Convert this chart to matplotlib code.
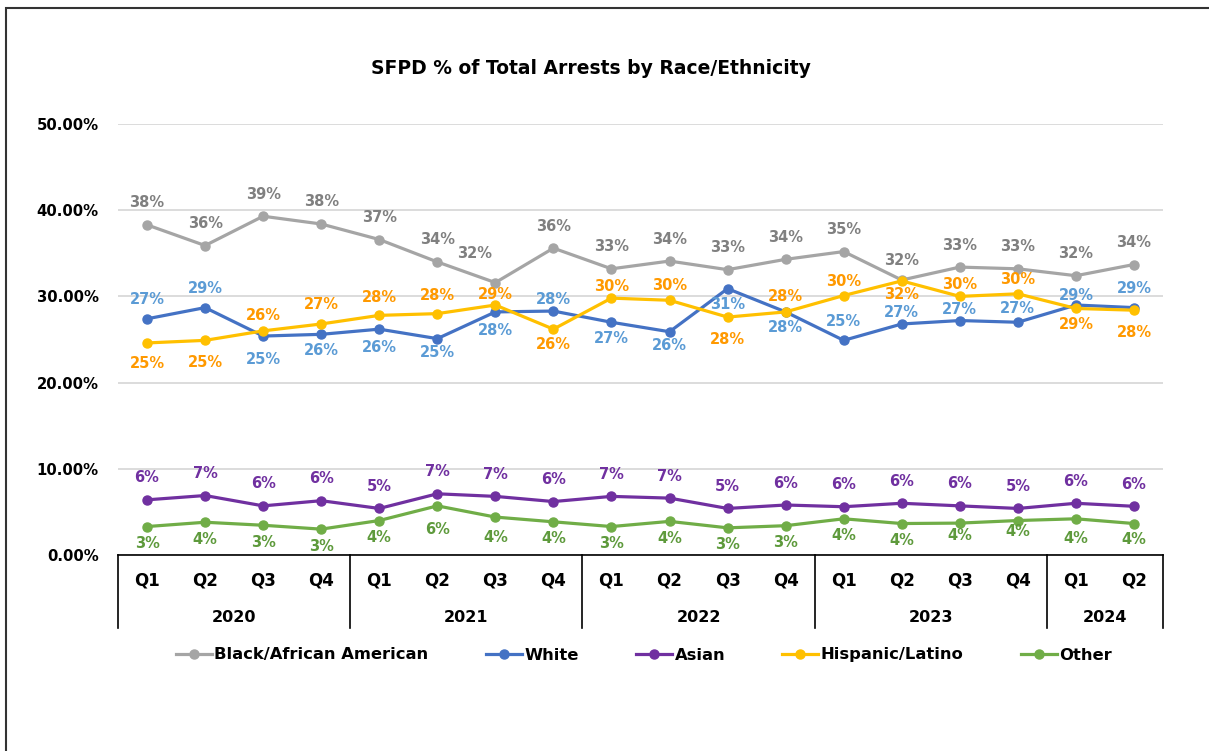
import matplotlib
matplotlib.use("Agg")
import matplotlib.pyplot as plt
from matplotlib.lines import Line2D
from matplotlib.patches import Rectangle
from matplotlib.ticker import FuncFormatter, MultipleLocator
import matplotlib.transforms as mtransforms

plt.rcParams['font.family'] = ['DejaVu Sans']

# ---------------- data ----------------
years = ['2020', '2021', '2022', '2023', '2024']
quarters_per_year = [4, 4, 4, 4, 2]
quarters = ['Q1', 'Q2', 'Q3', 'Q4'] * 4 + ['Q1', 'Q2']

black = [38.3, 35.9, 39.3, 38.4, 36.6, 34.0, 31.6, 35.6, 33.2, 34.1, 33.1, 34.3,
         35.2, 31.9, 33.4, 33.2, 32.4, 33.7]
white = [27.4, 28.7, 25.4, 25.6, 26.2, 25.1, 28.2, 28.3, 27.0, 25.9, 30.9, 28.2,
         24.9, 26.8, 27.2, 27.0, 29.0, 28.7]
asian = [6.4, 6.9, 5.7, 6.3, 5.4, 7.1, 6.8, 6.2, 6.8, 6.6, 5.4, 5.8,
         5.6, 6.0, 5.7, 5.4, 6.0, 5.65]
hispanic = [24.6, 24.9, 26.0, 26.8, 27.8, 28.0, 29.0, 26.2, 29.8, 29.55, 27.6, 28.2,
            30.1, 31.8, 30.0, 30.3, 28.6, 28.4]
other = [3.3, 3.8, 3.45, 3.0, 4.0, 5.7, 4.4, 3.85, 3.3, 3.9, 3.15, 3.4,
         4.2, 3.65, 3.7, 4.0, 4.2, 3.65]

series_names = ['Black/African American', 'White', 'Asian', 'Hispanic/Latino', 'Other']

# ---------------- style ----------------
line_colors = ['#A5A5A5', '#4472C4', '#7030A0', '#FFC000', '#70AD47']
label_colors = ['#808080', '#5B9BD5', '#7030A0', '#FF9900', '#5E9A3C']
# label vertical offsets in pixels (positive = above the point)
dy_black = [22, 22, 22, 22, 22, 22, 29, 22, 22, 22, 22, 22, 22, 20, 22, 22, 22, 22]
dy_white = [19, 19, -23, -16, -18, -14, -19, 12, -16, -14, -16, -16,
            19, 11, 11, 14, 10, 19]
dy_asian = [22] * 18
dy_hisp = [-21, -22, 15, 19, 18, 18, 11, -15, 12, 15, -22, 15,
           14, -14, 12, 14, -16, -22]
dy_other = [-17, -17, -17, -17, -17, -24, -20, -17, -17, -17, -17, -17,
            -17, -17, -12, -11, -20, -16]
# horizontal label nudges in pixels
dx_black = [0, 0, 0, 0, 0, 0, -21, 0, 0, 0, 0, 0, 0, 0, 0, 0, 0, 0]
dx_zero = [0] * 18

W, H = 1209, 751
fig = plt.figure(figsize=(W / 100, H / 100), dpi=100)
fig.patch.set_facecolor('white')

ax_l, ax_r, ax_t, ax_b = 118, 1163, 124, 555
ax = fig.add_axes([ax_l / W, 1 - ax_b / H, (ax_r - ax_l) / W, (ax_b - ax_t) / H])

x = list(range(len(quarters)))
all_series = [black, white, asian, hispanic, other]
dys = [dy_black, dy_white, dy_asian, dy_hisp, dy_other]
dxs = [dx_black, dx_zero, dx_zero, dx_zero, dx_zero]

for vals, lc, tc, dyl, dxl in zip(all_series, line_colors, label_colors, dys, dxs):
    ax.plot(x, vals, color=lc, lw=2.3, marker='o', ms=6.5, zorder=3, solid_capstyle='round')
    for xi, v, dy, dx in zip(x, vals, dyl, dxl):
        ax.annotate(f'{v:.0f}%', (xi, v), xytext=(dx, dy), textcoords='offset pixels',
                    ha='center', va='center', fontsize=10.5, fontweight='bold',
                    color=tc, zorder=4)

ax.set_xlim(-0.5, len(quarters) - 0.5)
ax.set_ylim(0, 50)
ax.yaxis.set_major_locator(MultipleLocator(10))
ax.yaxis.set_major_formatter(FuncFormatter(lambda v, p: f'{v:.2f}%'))
ax.grid(axis='y', color='#D9D9D9', lw=1.3)
ax.set_axisbelow(True)
for s in ['left', 'right', 'top']:
    ax.spines[s].set_visible(False)
ax.spines['bottom'].set_color('#000000')
ax.spines['bottom'].set_linewidth(1.2)
ax.tick_params(axis='y', length=0, pad=14, labelsize=10.7)
for lab in ax.get_yticklabels():
    lab.set_fontweight('bold')
ax.set_xticks([])

# multi-level category axis
trans = mtransforms.blended_transform_factory(ax.transData, ax.transAxes)
box_bottom = (ax_b - 628) / (ax_b - ax_t)
q_y = (ax_b - 580) / (ax_b - ax_t)
yr_y = (ax_b - 617) / (ax_b - ax_t)
for xi, q in zip(x, quarters):
    ax.text(xi, q_y, q, transform=trans, ha='center', va='center',
            fontsize=12, fontweight='bold', color='black')
start = 0
bounds = [-0.5]
for yr, n in zip(years, quarters_per_year):
    center = start + (n - 1) / 2
    ax.text(center, yr_y, yr, transform=trans, ha='center', va='center',
            fontsize=11.5, fontweight='bold', color='black')
    start += n
    bounds.append(start - 0.5)
for b in bounds:
    ax.plot([b, b], [0, box_bottom], transform=trans, color='black', lw=1.2,
            clip_on=False)

# title
fig.text(591 / W, 1 - 69 / H, 'SFPD % of Total Arrests by Race/Ethnicity',
         ha='center', va='center', fontsize=13.5, fontweight='bold', color='black')

# legend
handles = [Line2D([0], [0], color=c, lw=2.3, marker='o', ms=6.5) for c in line_colors]
leg = fig.legend(handles, series_names, loc='center', bbox_to_anchor=(644 / W, 1 - 655 / H),
                 ncol=5, frameon=False, handlelength=2.2, handletextpad=0.15,
                 columnspacing=3.5, prop={'weight': 'bold', 'size': 11.8})

# outer border
fig.patches.append(Rectangle((6 / W, -0.05), 1.2, 1.05 - 8 / H, transform=fig.transFigure,
                             fill=False, edgecolor='#333333', lw=1.5, zorder=10))

fig.savefig('out.png', dpi=100)
